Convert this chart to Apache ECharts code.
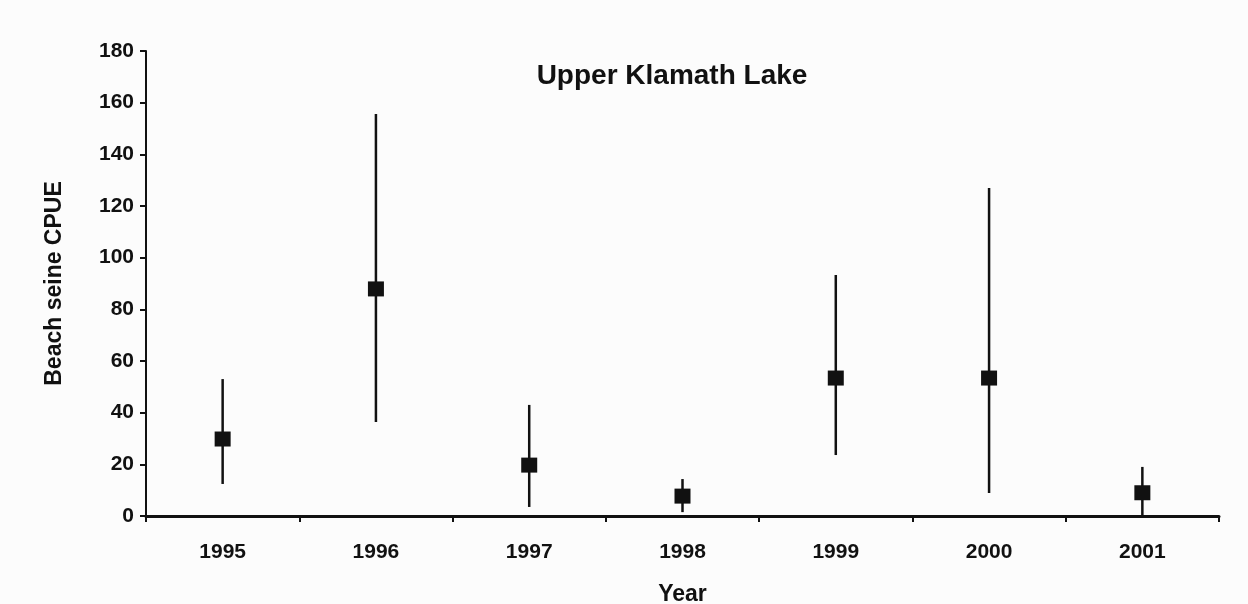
<!DOCTYPE html>
<html>
<head>
<meta charset="utf-8">
<script src="https://cdn.jsdelivr.net/npm/echarts@6/dist/echarts.min.js"></script>
<style>html,body{margin:0;padding:0;background:#fff;}#c{width:1248px;height:604px;}</style>
</head>
<body>
<div id="c"></div>
<script>
var years = ['1995', '1996', '1997', '1998', '1999', '2000', '2001'];
var means = [29.8, 87.9, 19.7, 7.7, 53.4, 53.4, 9.0];
var upper = [53, 155.6, 43, 14.3, 93.3, 127, 19];
var lower = [12.4, 36.4, 3.5, 1.5, 23.6, 8.9, 0];
var yTicks = [0, 20, 40, 60, 80, 100, 120, 140, 160, 180];

var chart = echarts.init(document.getElementById('c'));
var errData = years.map(function (y, i) { return [i, lower[i], upper[i]]; });
var font = 'Liberation Sans, Arial, sans-serif';

chart.setOption({
  backgroundColor: '#fcfcfc',
  animation: false,
  title: {
    text: 'Upper Klamath Lake',
    left: 667, top: 57, textAlign: 'center',
    textStyle: { fontFamily: font, fontSize: 28, fontWeight: 'bold', color: '#111' }
  },
  grid: { left: 146, right: 29, top: 51, bottom: 88, containLabel: false, outerBoundsMode: 'none' },
  xAxis: {
    type: 'category',
    data: years,
    name: 'Year',
    nameLocation: 'middle',
    nameGap: 67,
    nameTextStyle: { fontFamily: font, fontSize: 23, fontWeight: 'bold', color: '#111' },
    axisLine: { lineStyle: { color: '#111', width: 3 } },
    axisTick: { show: true, length: 6, lineStyle: { color: '#111', width: 2 } },
    axisLabel: { margin: 26, fontFamily: font, fontSize: 21, fontWeight: 'bold', color: '#111' },
    splitLine: { show: false }
  },
  yAxis: {
    type: 'value',
    min: yTicks[0], max: yTicks[yTicks.length - 1], interval: 20,
    name: 'Beach seine CPUE',
    nameLocation: 'middle',
    nameGap: 80,
    nameTextStyle: { fontFamily: font, fontSize: 23, fontWeight: 'bold', color: '#111' },
    axisLine: { show: true, lineStyle: { color: '#111', width: 2 } },
    axisTick: { show: true, length: 6, lineStyle: { color: '#111', width: 2 } },
    axisLabel: { margin: 12, fontFamily: font, fontSize: 21, fontWeight: 'bold', color: '#111' },
    splitLine: { show: false }
  },
  series: [
    {
      type: 'custom',
      data: errData,
      renderItem: function (params, api) {
        var p1 = api.coord([api.value(0), api.value(1)]);
        var p2 = api.coord([api.value(0), api.value(2)]);
        return {
          type: 'line',
          shape: { x1: p1[0], y1: p1[1], x2: p2[0], y2: p2[1] },
          style: { stroke: '#111', lineWidth: 2.5 }
        };
      },
      z: 2
    },
    {
      type: 'scatter',
      data: means,
      symbol: 'rect',
      symbolSize: [16, 15],
      itemStyle: { color: '#111', opacity: 1 },
      z: 3
    }
  ]
});
</script>
</body>
</html>
